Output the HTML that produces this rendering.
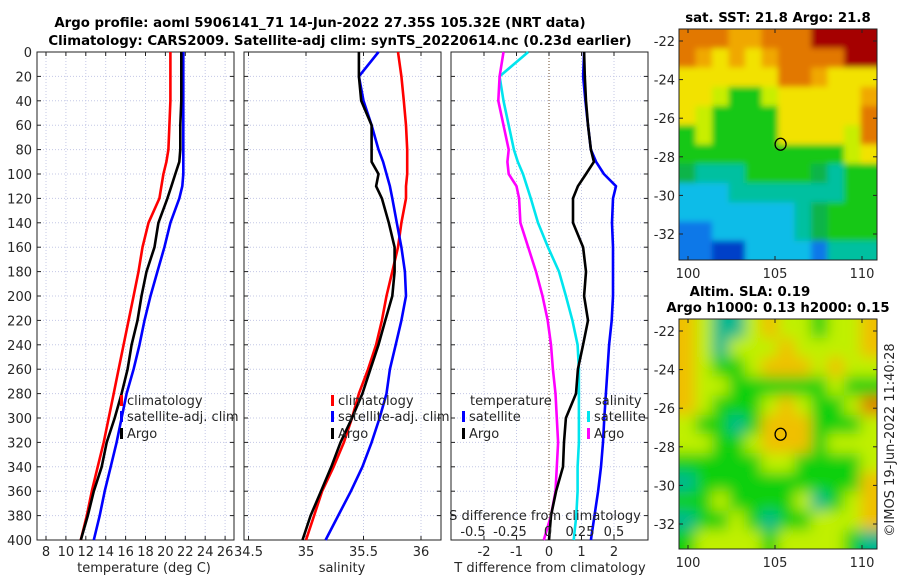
<!DOCTYPE html>
<html><head><meta charset="utf-8">
<style>
html,body{margin:0;padding:0;background:#fff;}
svg{display:block;font-family:"DejaVu Sans","Liberation Sans",sans-serif;}
.t{font-size:13px;fill:#262626;}
.b{font-size:13.3px;font-weight:bold;fill:#000;}
</style></head>
<body>
<svg id="c" width="900" height="580" viewBox="0 0 900 580">
<text class="b" x="320" y="27" text-anchor="middle">Argo profile: aoml 5906141_71 14-Jun-2022 27.35S 105.32E (NRT data)</text>
<text class="b" x="340" y="45" text-anchor="middle">Climatology: CARS2009. Satellite-adj clim: synTS_20220614.nc (0.23d earlier)</text>
<g id="g"></g>
</svg>
<script>
// ---- data ----
const depth = [0,20,40,60,80,90,100,110,120,140,160,180,200,220,240,260,280,300,320,340,360,380,400];
const depthTicks = [0,20,40,60,80,100,120,140,160,180,200,220,240,260,280,300,320,340,360,380,400];
const tClim = [20.5,20.5,20.5,20.4,20.3,20.1,19.8,19.6,19.4,18.3,17.7,17.3,16.8,16.3,15.8,15.3,14.8,14.3,13.8,13.2,12.6,12.1,11.5];
const tSat  = [21.8,21.8,21.8,21.8,21.8,21.8,21.8,21.7,21.4,20.5,19.9,19.2,18.5,17.9,17.4,16.8,16.1,15.6,15.1,14.5,13.9,13.4,12.8];
const tArgo = [21.6,21.6,21.6,21.5,21.5,21.4,21.0,20.6,20.2,19.3,18.9,18.1,17.6,17.2,16.6,16.2,15.6,14.9,14.1,13.6,12.8,12.2,11.5];
const sClim = [35.80,35.83,35.85,35.87,35.88,35.88,35.88,35.87,35.87,35.83,35.80,35.75,35.70,35.66,35.61,35.54,35.46,35.40,35.33,35.24,35.14,35.07,35.00];
const sSat  = [35.63,35.46,35.50,35.57,35.63,35.67,35.70,35.73,35.75,35.79,35.83,35.86,35.87,35.83,35.78,35.73,35.70,35.64,35.57,35.49,35.39,35.28,35.17];
const sArgo = [35.46,35.46,35.48,35.57,35.57,35.57,35.63,35.61,35.66,35.72,35.77,35.77,35.75,35.69,35.63,35.56,35.49,35.40,35.30,35.22,35.13,35.04,34.97];
const dTSat  = [1.08,1.05,1.12,1.2,1.29,1.45,1.69,2.06,1.97,1.94,1.97,1.97,1.97,1.93,1.85,1.8,1.75,1.7,1.66,1.6,1.51,1.4,1.29];
const dTArgo = [1.08,1.1,1.14,1.2,1.29,1.38,1.14,0.89,0.74,0.74,1.05,1.14,1.08,1.2,1.05,0.89,0.83,0.52,0.46,0.43,0.22,0.06,0.0];
const dSSat  = [-0.16,-0.38,-0.35,-0.31,-0.27,-0.24,-0.20,-0.17,-0.14,-0.085,-0.008,0.077,0.13,0.18,0.22,0.23,0.23,0.23,0.23,0.22,0.22,0.21,0.19];
const dSArgo = [-0.35,-0.38,-0.39,-0.35,-0.31,-0.32,-0.31,-0.25,-0.23,-0.22,-0.16,-0.10,-0.05,-0.01,0.015,0.03,0.05,0.06,0.07,0.06,0.05,0.015,-0.04];
const tTicks = [8,10,12,14,16,18,20,22,24,26];
const sTicks = [34.5,35,35.5,36];
const sTickLabels = ["34.5","35","35.5","36"];
const dTTicks = [-2,-1,0,1,2];
const latTicks = [-22,-24,-26,-28,-30,-32];
const lonTicks = [100,105,110];
const sstRows = ["OOOooOOORRRR","OoYoYoOOOORR","YYYYYYOOoYYY","YYyGGyYYYYYo","YyGGGGYYYYYO","GyGGGGYYYYyO","GGGGGGGGGGyY","gTTTGGGGgTGG","CCCTTTTTTTGG","CCCCCCCTgGGG","BBCCCCCTgGGG","BBDDCCCCBTTT"];
const slaRows = ["oLTTLoLLGLLo","oLTLLLoLLLLo","oLGGLoooLoLL","oLLGGGGGGLGG","oLGGGLoLGGLO","LGGTGoooGGGL","LLGGLoooGLLL","GGGGGLLGGGGL","TGGGGGGGGGGo","GGLGGGGLTGLo","TGGLGTGGLLLo","GLLLLGLLLLGT"];
const argoLon = 105.32, argoLat = -27.35;

// ---- scales ----
const Y0=52, Y1=540;
const yD = d => Y0 + d*(Y1-Y0)/400;
const xT = t => 46 + (t-8)*9.95;
const xS = s => 306 + (s-35)*115;
const xDT = v => 549 + v*32.5;
const xDS = v => 549 + v*130;
const P = [[37,234],[244,441],[451,648]];
const NS='http://www.w3.org/2000/svg';
const G=document.getElementById('g');
function el(tag,attrs,parent){const e=document.createElementNS(NS,tag);for(const k in attrs)e.setAttribute(k,attrs[k]);(parent||G).appendChild(e);return e;}
function txt(x,y,s,anchor,cls,parent){const e=el('text',{x:x,y:y,'text-anchor':anchor||'middle',class:cls||'t'},parent);e.textContent=s;return e;}

// grids & frames
P.forEach((p,i)=>{
  const gp=el('g',{});
  
  
  depthTicks.forEach(d=>{
    const l=el('line',{x1:p[0],x2:p[1],y1:yD(d),y2:yD(d),stroke:'#c4c8e6','stroke-dasharray':'1,2'},gp);
    
    el('line',{x1:p[0],x2:p[0]+4,y1:yD(d),y2:yD(d),stroke:'#222'},gp);
    el('line',{x1:p[1]-4,x2:p[1],y1:yD(d),y2:yD(d),stroke:'#222'},gp);
  });
  let xs = i===0? tTicks.map(xT) : i===1 ? sTicks.map(xS) : dTTicks.map(xDT);
  xs.forEach((x,j)=>{
    const zero = (i===2 && dTTicks[j]===0);
    const l=el('line',{x1:x,x2:x,y1:Y0,y2:Y1,stroke:zero?'#6b4a2a':'#c4c8e6','stroke-dasharray':'1,2'},gp);
    
    el('line',{x1:x,x2:x,y1:Y1-4,y2:Y1,stroke:'#222'},gp);
    el('line',{x1:x,x2:x,y1:Y0,y2:Y0+4,stroke:'#222'},gp);
  });
  const r=el('rect',{x:p[0],y:Y0,width:p[1]-p[0],height:Y1-Y0,fill:'none',stroke:'#222'},gp);
  
});
depthTicks.forEach(d=>{const t=txt(32,yD(d)+5,String(d),'end');});
tTicks.forEach(v=>{const t=txt(xT(v),556,String(v));});
sTicks.forEach((v,j)=>{const t=txt(xS(v),556,sTickLabels[j]);});
dTTicks.forEach(v=>{const t=txt(xDT(v),556,String(v));});
let a;
a=txt(144,572,'temperature (deg C)');
a=txt(342,572,'salinity');
a=txt(550,572,'T difference from climatology');

function line(vals,xf,color,name){
  const pts=vals.map((v,k)=>xf(v).toFixed(1)+','+yD(depth[k]).toFixed(1)).join(' ');
  const pl=el('polyline',{points:pts,fill:'none',stroke:color,'stroke-width':2.6,'stroke-linejoin':'round'});
  
  
}
line(tClim,xT,'#ff0000','temp-climatology-line');
line(tSat,xT,'#0000ff','temp-satellite-line');
line(tArgo,xT,'#000000','temp-argo-line');
line(sClim,xS,'#ff0000','sal-climatology-line');
line(sSat,xS,'#0000ff','sal-satellite-line');
line(sArgo,xS,'#000000','sal-argo-line');
line(dSSat,xDS,'#00e5ee','sdiff-satellite-line');
line(dSArgo,xDS,'#ff00ff','sdiff-argo-line');
line(dTSat,xDT,'#0000ff','tdiff-satellite-line');
line(dTArgo,xDT,'#000000','tdiff-argo-line');

function leg(x,y,color,label,name){
  const g=el('g',{});
  
  
  el('rect',{x:x,y:y-10,width:3,height:11,fill:color},g);
  txt(x+7,y,label,'start','t',g);
}
leg(120,405,'#ff0000','climatology','legend-entry-climatology');
leg(120,421,'#0000ff','satellite-adj. clim','legend-entry-satellite-adj');
leg(120,438,'#000000','Argo','legend-entry-argo');
leg(331,405,'#ff0000','climatology','legend-entry-climatology-2');
leg(331,421,'#0000ff','satellite-adj. clim','legend-entry-satellite-adj-2');
leg(331,438,'#000000','Argo','legend-entry-argo-2');
a=txt(470,405,'temperature','start');
a=txt(595,405,'salinity','start');
leg(462,421,'#0000ff','satellite','legend-entry-t-satellite');
leg(462,438,'#000000','Argo','legend-entry-t-argo');
leg(587,421,'#00e5ee','satellite','legend-entry-s-satellite');
leg(587,438,'#ff00ff','Argo','legend-entry-s-argo');
a=txt(545,520,'S difference from climatology');
[['-0.5',473],['-0.25',510],['0',548],['0.25',580],['0.5',614]].forEach(q=>{const t=txt(q[1],536,q[0]);});

// maps
const colSST={R:'#a50000',O:'#e27800',o:'#f0a800',Y:'#f2e200',y:'#c8ee00',G:'#14c814',g:'#10b448',T:'#00c0a0',C:'#08bce8',B:'#0878e8',D:'#0040c8'};
const colSLA={o:'#f0c000',O:'#e08000',Y:'#f0f000',L:'#c0f000',G:'#10d010',T:'#00b890'};
const MX0=679,MX1=877;
const xLon = lon => 688 + (lon-100)*17.4;
function drawMap(rows,cols,top,bottom,latYm22,latYm32,name,blur,fid){
  const g=el('g',{});
  
  
  const defs=el('defs',{},g);
  const cp=el('clipPath',{id:'cp'+fid},defs);
  el('rect',{x:MX0,y:top,width:MX1-MX0,height:bottom-top},cp);
  const f=el('filter',{id:'f'+fid,filterUnits:'userSpaceOnUse',x:MX0-30,y:top-30,width:MX1-MX0+60,height:bottom-top+60},defs);
  el('feGaussianBlur',{stdDeviation:blur},f);
  const inner=el('g',{'clip-path':'url(#cp'+fid+')'},g);
  const cells=el('g',{filter:'url(#f'+fid+')'},inner);
  const nr=rows.length,nc=rows[0].length;
  const cw=(MX1-MX0)/nc, ch=(bottom-top)/nr;
  rows.forEach((r,i)=>{for(let j=0;j<nc;j++){
    const x0=MX0+j*cw-(j===0?20:0), y0=top+i*ch-(i===0?20:0);
    const c=el('rect',{x:x0,y:y0,width:cw+0.6+(j===0?20:0)+(j===nc-1?20:0),height:ch+0.6+(i===0?20:0)+(i===nr-1?20:0),fill:cols[r[j]]},cells);
    
    
  }});
  const yLat = lat => latYm22 + (lat+22)*(latYm32-latYm22)/(-10);
  el('rect',{x:MX0,y:top,width:MX1-MX0,height:bottom-top,fill:'none',stroke:'#222'},g);
  latTicks.forEach(l=>{const y=yLat(l);
    el('line',{x1:MX0,x2:MX0+4,y1:y,y2:y,stroke:'#222'},g);
    el('line',{x1:MX1-4,x2:MX1,y1:y,y2:y,stroke:'#222'},g);
    const t=txt(MX0-4,y+5,String(l),'end','t',g);});
  lonTicks.forEach(l=>{const x=xLon(l);
    el('line',{x1:x,x2:x,y1:bottom-4,y2:bottom,stroke:'#222'},g);
    el('line',{x1:x,x2:x,y1:top,y2:top+4,stroke:'#222'},g);
    const t=txt(x,bottom+18,String(l),'middle','t',g);});
  const c=el('ellipse',{cx:xLon(argoLon),cy:yLat(argoLat),rx:5.5,ry:6,fill:'none',stroke:'#000','stroke-width':1.3},g);
  
  
}
drawMap(sstRows,colSST,29,260,41,234,'sst-map',3,'a');
drawMap(slaRows,colSLA,319,549,331,524,'sla-map',7,'b');
a=txt(778,22,'sat. SST: 21.8 Argo: 21.8','middle','b');
a=txt(750,296,'Altim. SLA: 0.19','middle','b');
a=txt(778,312,'Argo h1000: 0.13 h2000: 0.15','middle','b');
a=txt(0,0,'©IMOS 19-Jun-2022 11:40:28','middle');a.setAttribute('transform','translate(894,440) rotate(-90)');

</script>
</body></html>
